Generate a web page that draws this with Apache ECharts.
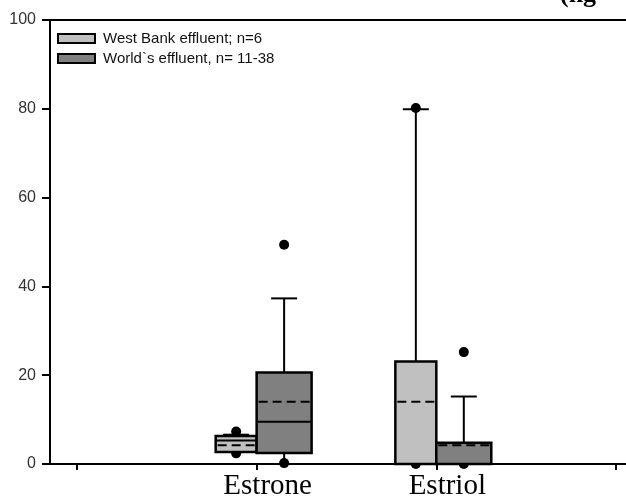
<!DOCTYPE html>
<html>
<head>
<meta charset="utf-8">
<script src="https://cdn.jsdelivr.net/npm/echarts@6/dist/echarts.min.js"></script>
<style>
  html, body { margin: 0; padding: 0; background: #fff; }
  #container { width: 626px; height: 498px; }
</style>
</head>
<body>
<div id="container"></div>
<script>
// categories along x (empty slots at both ends, like the original plot)
var categories = ['', 'Estrone', 'Estriol', ''];
var catIndex = [1, 2];
var yTicks = [0, 20, 40, 60, 80, 100];

// [lower whisker, Q1, median, Q3, upper whisker] for Estrone, Estriol
var westBox = [[2.7, 2.7, 5.3, 6.3, 6.6], [0, 0, 0, 23.1, 79.9]];
var westMean = [4.2, 14.0];
var westDots = [[2.4, 7.3], [0, 80.2]];

var worldBox = [[0, 2.5, 9.5, 20.6, 37.3], [0, 0, 0, 4.8, 15.2]];
var worldMean = [14.0, 4.2];
var worldDots = [[0.2, 49.4], [0, 25.2]];

function buildData(boxes, means, dots) {
    return boxes.map(function (b, i) {
        return [catIndex[i]].concat(b, [means[i]], dots[i]);
    });
}

// offset/width are in category units
function makeRender(offset, width) {
    return function (params, api) {
        var unit = api.size([1, 0])[0];
        var cx = api.coord([api.value(0) + offset, 0])[0];
        var half = width * unit / 2;
        var cap = 13;
        function y(dim) { return api.coord([0, api.value(dim)])[1]; }
        var low = y(1), q1 = y(2), med = y(3), q3 = y(4), high = y(5);
        var mean = y(6), dotLow = y(7), dotHigh = y(8);
        var fill = api.visual('color');
        var ln = { stroke: '#000', lineWidth: 2 };
        var kids = [];
        kids.push({ type: 'circle', shape: { cx: cx, cy: dotLow, r: 5 }, style: { fill: '#000' } });
        kids.push({ type: 'line', shape: { x1: cx, y1: q3, x2: cx, y2: high }, style: ln });
        kids.push({ type: 'line', shape: { x1: cx - cap, y1: high, x2: cx + cap, y2: high }, style: ln });
        kids.push({ type: 'line', shape: { x1: cx, y1: q1, x2: cx, y2: low }, style: ln });
        kids.push({ type: 'line', shape: { x1: cx - cap, y1: low, x2: cx + cap, y2: low }, style: ln });
        kids.push({
            type: 'rect',
            shape: { x: cx - half, y: q3, width: half * 2, height: q1 - q3 },
            style: { fill: fill, stroke: '#000', lineWidth: 2.5 }
        });
        kids.push({ type: 'line', shape: { x1: cx - half, y1: med, x2: cx + half, y2: med }, style: ln });
        kids.push({
            type: 'line',
            shape: { x1: cx - half + 2, y1: mean, x2: cx + half - 2, y2: mean },
            style: { stroke: '#000', lineWidth: 2, lineDash: [9, 5] }
        });
        kids.push({ type: 'circle', shape: { cx: cx, cy: dotHigh, r: 5 }, style: { fill: '#000' } });
        return { type: 'group', children: kids };
    };
}

var myChart = echarts.init(document.getElementById('container'));
var option = {
    animation: false,
    grid: {
        left: 50, top: 20, width: 596, bottom: 34,
        outerBoundsMode: 'none',
        containLabel: false,
        show: true, borderColor: '#000', borderWidth: 2
    },
    legend: {
        orient: 'vertical',
        left: 57, top: 31,
        padding: 0,
        itemWidth: 37, itemHeight: 9,
        itemGap: 5,
        icon: 'rect',
        itemStyle: { borderColor: '#000', borderWidth: 2 },
        textStyle: { fontFamily: 'Liberation Sans', fontSize: 15, color: '#111', padding: [0, 0, 0, 3] },
        data: ['West Bank effluent; n=6', 'World`s effluent, n= 11-38']
    },
    graphic: [{
        type: 'text', left: 560, top: -18,
        style: { text: '(ng', font: 'bold 26px "Liberation Serif"', fill: '#000' }
    }],
    xAxis: {
        type: 'value',
        min: -0.15, max: 3.167,
        splitLine: { show: false },
        axisLine: { lineStyle: { color: '#000', width: 2 } },
        axisTick: { customValues: [0, 1, 2, 3], length: 6, lineStyle: { color: '#000', width: 2 } },
        axisLabel: {
            customValues: catIndex,
            formatter: function (v) { return categories[Math.round(v)]; },
            fontFamily: 'Liberation Serif', fontSize: 29, color: '#000',
            margin: 8, padding: [0, 0, 0, 22]
        }
    },
    yAxis: {
        type: 'value',
        min: yTicks[0], max: yTicks[yTicks.length - 1], interval: 20,
        splitLine: { show: false },
        axisLine: { show: true, onZero: false, lineStyle: { color: '#000', width: 2 } },
        axisTick: { show: true, length: 8, lineStyle: { color: '#000', width: 2 } },
        axisLabel: { fontFamily: 'Liberation Sans', fontSize: 16, color: '#333', margin: 14 }
    },
    series: [
        {
            name: 'West Bank effluent; n=6',
            type: 'custom',
            itemStyle: { color: '#c0c0c0' },
            renderItem: makeRender(-0.114, 0.228),
            encode: { x: 0, y: [1, 2, 3, 4, 5, 6, 7, 8] },
            data: buildData(westBox, westMean, westDots)
        },
        {
            name: 'World`s effluent, n= 11-38',
            type: 'custom',
            itemStyle: { color: '#808080' },
            renderItem: makeRender(0.153, 0.306),
            encode: { x: 0, y: [1, 2, 3, 4, 5, 6, 7, 8] },
            data: buildData(worldBox, worldMean, worldDots)
        }
    ]
};
myChart.setOption(option);
</script>
</body>
</html>
